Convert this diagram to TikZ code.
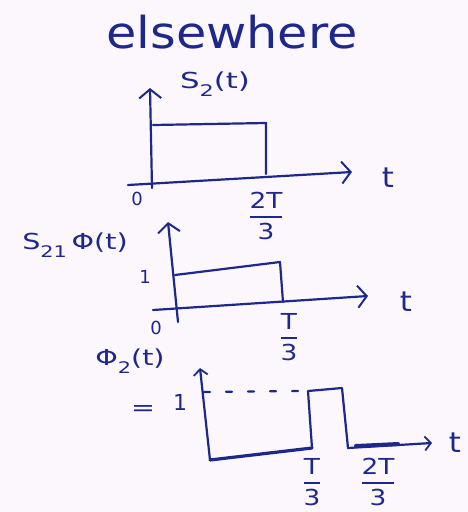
\documentclass[tikz,border=0pt]{standalone}
\usepackage{amsmath}
\usepackage{fontspec}
\setmainfont{DejaVu Sans}
\usetikzlibrary{arrows.meta}
\definecolor{ink}{RGB}{30,40,140}
\definecolor{paper}{RGB}{252,247,252}
\newcommand{\hw}[2][1.3]{\scalebox{#1}[1]{#2}}
\newcommand{\hfr}[2]{$\genfrac{}{}{1.8pt}{0}{\mbox{#1}}{\mbox{#2}}$}
\newcommand{\lowsub}[1]{\raisebox{-0.35em}{\fontsize{16}{16}\selectfont #1}}
\begin{document}
\begin{tikzpicture}[x=1pt,y=-1pt, line width=2.2pt, line cap=round, line join=round,
  hand/.style={text=ink, font=\fontsize{22}{24}\selectfont, inner sep=0pt},
  tlabel/.style={text=ink, font=\fontsize{28}{30}\selectfont, inner sep=0pt},
  axis/.style={draw=ink, -{Straight Barb[length=9pt,width=22pt,line width=2pt]}},
  smallaxis/.style={draw=ink, -{Straight Barb[length=6pt,width=14pt,line width=1.8pt]}},
  sig/.style={draw=ink},
  dashline/.style={draw=ink, dash pattern=on 6pt off 16pt}]
\fill[paper] (0,0) rectangle (468,512);
\useasboundingbox (0,0) rectangle (468,512);
% title
\node[hand, font=\fontsize{44}{44}\selectfont] (title) at (232,32) {\hw[1.12]{elsewhere}};
% ---------- graph 1 ----------
\coordinate (a1b) at (152,188);
\coordinate (a1t) at (150,88);
\coordinate (a1l) at (128,185);
\coordinate (a1r) at (352,172);
\coordinate (r1a) at (153,125);
\coordinate (r1b) at (266,123);
\coordinate (r1c) at (266,174);
\draw[axis] (a1b) -- (a1t);
\draw[axis] (a1l) -- (a1r);
\draw[sig] (r1a) -- (r1b) -- (r1c);
\node[hand] (s2) at (215,84) {\hw[1.4]{S\lowsub{2}(t)}};
\node[tlabel] (t1) at (388,178) {\hw[1.1]{t}};
\node[hand, font=\fontsize{18}{20}\selectfont] (z1) at (137,199) {0};
\node[hand] (f1) at (266,216) {\hw[1.2]{\hfr{2T}{3}}};
% ---------- graph 2 ----------
\coordinate (a2b) at (178,322);
\coordinate (a2t) at (168,222);
\coordinate (a2l) at (153,310);
\coordinate (a2r) at (368,296);
\coordinate (r2a) at (175,275);
\coordinate (r2b) at (280,262);
\coordinate (r2c) at (283,302);
\draw[axis] (a2b) -- (a2t);
\draw[axis] (a2l) -- (a2r);
\draw[sig] (r2a) -- (r2b) -- (r2c);
\node[hand] (s21) at (75,245) {\hw[1.3]{S\lowsub{21}\,Φ(t)}};
\node[hand, font=\fontsize{18}{20}\selectfont] (one2) at (145,277) {1};
\node[hand, font=\fontsize{18}{20}\selectfont] (z2) at (156,328) {0};
\node[tlabel] (t2) at (406,302) {\hw[1.1]{t}};
\node[hand] (f2) at (289,337) {\hw[1.2]{\hfr{T}{3}}};
% ---------- graph 3 ----------
\coordinate (a3b) at (210,460);
\coordinate (a3t) at (200,368);
\coordinate (r3a) at (312,448);
\coordinate (r3b) at (308,391);
\coordinate (r3c) at (342,388);
\coordinate (r3d) at (348,448);
\coordinate (a3r) at (432,443);
\coordinate (d3a) at (204,392);
\coordinate (d3b) at (302,391);
\coordinate (k3a) at (356,446);
\coordinate (k3b) at (398,444);
\draw[smallaxis] (a3b) -- (a3t);
\draw[sig, line width=3.2pt] (a3b) -- (r3a);
\draw[sig] (r3a) -- (r3b) -- (r3c) -- (r3d);
\draw[smallaxis] (r3d) -- (a3r);
\draw[sig, line width=4pt] (k3a) -- (k3b);
\draw[dashline] (d3a) -- (d3b);
\node[hand] (phi2) at (130,361) {\hw[1.3]{Φ\lowsub{2}(t)}};
\node[hand] (eq3) at (143,410) {\hw{=}};
\node[hand] (one3) at (180,402) {1};
\node[tlabel] (t3) at (455,443) {\hw[1.1]{t}};
\node[hand] (f3) at (312,482) {\hw[1.2]{\hfr{T}{3}}};
\node[hand] (f4) at (378,482) {\hw[1.2]{\hfr{2T}{3}}};
\end{tikzpicture}
\end{document}
